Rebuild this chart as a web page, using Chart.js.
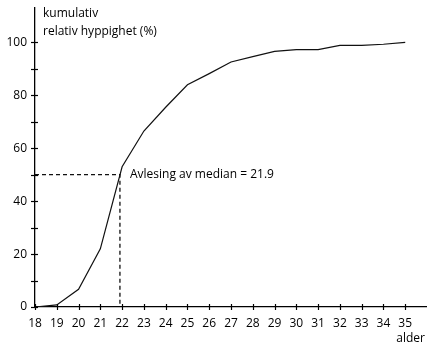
<!DOCTYPE html>
<html>
<head>
<meta charset="utf-8">
<script src="https://cdn.jsdelivr.net/npm/chart.js@4"></script>
<style>
  html, body { margin: 0; padding: 0; background: #fff; }
  #wrap { width: 427px; height: 343px; }
</style>
</head>
<body>
<div id="wrap"><canvas id="graf"></canvas></div>
<script>
// alder (år) og kumulativ relativ hyppighet (%)
const alder = [18, 19, 20, 21, 22, 23, 24, 25, 26, 27, 28, 29, 30, 31, 32, 33, 34, 35];
const kumulativ = [0, 0.8, 6.7, 22, 53, 66.5, 75.5, 84, 88.2, 92.6, 94.6, 96.6, 97.3, 97.3, 98.9, 98.9, 99.3, 100];

// avlesing av median
const medianAlder = 21.9;
const medianProsent = 50;

const yTicks = [0, 10, 20, 30, 40, 50, 60, 70, 80, 90, 100];
const yLabels = [0, 20, 40, 60, 80, 100];

const FONT = '"Open Sans", sans-serif';

// tegner tick-streker som krysser aksene + tekstene
const aksePlugin = {
  id: 'akser',
  afterDraw(chart) {
    const ctx = chart.ctx;
    const x = chart.scales.x;
    const y = chart.scales.y;
    const area = chart.chartArea;
    ctx.save();
    ctx.strokeStyle = '#000';
    ctx.lineWidth = 1.2;
    yTicks.forEach(v => {
      const py = Math.round(y.getPixelForValue(v)) + 0.5;
      ctx.beginPath();
      ctx.moveTo(area.left - 4, py);
      ctx.lineTo(area.left + 3, py);
      ctx.stroke();
    });
    alder.forEach(v => {
      const px = Math.round(x.getPixelForValue(v)) + 0.5;
      ctx.beginPath();
      ctx.moveTo(px, area.bottom - 3);
      ctx.lineTo(px, area.bottom + 3);
      ctx.stroke();
    });

    ctx.fillStyle = '#000';
    ctx.font = '12px ' + FONT;
    ctx.textBaseline = 'middle';
    ctx.textAlign = 'left';
    ctx.fillText('kumulativ', 43, 14);
    ctx.fillText('relativ hyppighet (%)', 43, 32);
    ctx.fillText('Avlesing av median = ' + medianAlder, 130, 175);
    ctx.textAlign = 'right';
    ctx.fillText('alder', 425, 339);
    ctx.restore();
  }
};

const data = {
  datasets: [
    {
      label: 'kumulativ',
      data: alder.map((a, i) => ({ x: a, y: kumulativ[i] })),
      borderColor: '#111',
      borderWidth: 1.2,
      pointRadius: 0,
      tension: 0,
      fill: false
    },
    {
      label: 'median',
      data: [
        { x: 18, y: medianProsent },
        { x: medianAlder, y: medianProsent },
        { x: medianAlder, y: 0 }
      ],
      borderColor: '#111',
      borderWidth: 1.3,
      borderDash: [4, 3],
      pointRadius: 0,
      tension: 0,
      fill: false
    }
  ]
};

const config = {
  type: 'line',
  data: data,
  plugins: [aksePlugin],
  options: {
    responsive: true,
    maintainAspectRatio: false,
    animation: false,
    layout: { padding: { top: 8, right: 0, left: 0, bottom: 0 } },
    plugins: {
      legend: { display: false },
      tooltip: { enabled: false }
    },
    scales: {
      x: {
        type: 'linear',
        min: 18,
        max: 36,
        afterFit(scale) {
          scale.height = 36;
          scale.paddingLeft = 0;
          scale.paddingRight = 0;
        },
        afterBuildTicks(scale) {
          scale.ticks = alder.map(v => ({ value: v }));
        },
        grid: { display: false, drawTicks: false },
        border: { display: true, color: '#000', width: 1.3 },
        ticks: {
          color: '#000',
          font: { family: FONT, size: 12 },
          padding: 9,
          maxRotation: 0,
          autoSkip: false
        }
      },
      y: {
        min: 0,
        max: 113,
        afterFit(scale) {
          scale.width = 35;
          scale.paddingTop = 0;
          scale.paddingBottom = 0;
        },
        afterBuildTicks(scale) {
          scale.ticks = yLabels.map(v => ({ value: v }));
        },
        grid: { display: false, drawTicks: false },
        border: { display: true, color: '#000', width: 1.3 },
        ticks: {
          color: '#000',
          font: { family: FONT, size: 12 },
          padding: 8
        }
      }
    }
  }
};

new Chart(document.getElementById('graf').getContext('2d'), config);
</script>
</body>
</html>
